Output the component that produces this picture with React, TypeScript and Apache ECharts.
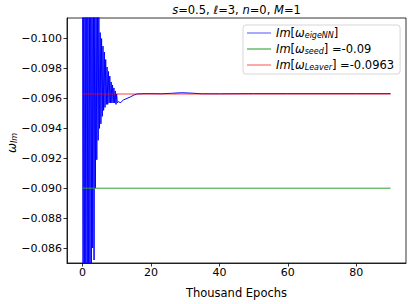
import React, { useEffect, useRef } from 'react';
import * as echarts from 'echarts';

// Blue series: Im[omega] predicted by eigeNN (thousand epochs)
const blueEpochs = [
  0.0, 0.2, 0.4, 0.6, 0.8, 1.0, 1.2, 1.4, 1.6, 1.8,
  2.0, 2.2, 2.4, 2.6, 2.8, 3.0, 3.2, 3.4, 3.6, 3.8,
  4.0, 4.2, 4.4, 4.6, 4.8, 5.0, 5.2, 5.4, 5.6, 5.8,
  6.0, 6.2, 6.4, 6.6, 6.8, 7.0, 7.2, 7.4, 7.6, 7.8,
  8.0, 8.2, 8.4, 8.6, 8.8, 9.0, 9.2, 9.4, 9.6, 9.8,
  10.0, 10.2, 10.6, 11.0, 11.5, 12.0, 13, 14, 15, 16, 18,
  20, 23, 26, 29, 32, 35, 40, 50, 60, 70, 80, 90,
];
const blueValues = [
  -0.110, -0.080, -0.110, -0.080, -0.110, -0.080, -0.110, -0.080, -0.110, -0.080,
  -0.110, -0.082, -0.110, -0.083, -0.108, -0.0860, -0.106, -0.0852, -0.104, -0.0900,
  -0.103, -0.0919, -0.102, -0.0932, -0.1015, -0.0940, -0.1004, -0.0943, -0.1000, -0.0948,
  -0.0995, -0.0952, -0.0991, -0.0954, -0.0986, -0.0956, -0.0981, -0.0956, -0.0978, -0.0957,
  -0.0975, -0.0957, -0.0971, -0.0957, -0.0969, -0.0957, -0.0967, -0.0957, -0.0965, -0.0956,
  -0.0963, -0.0957, -0.0958, -0.0957, -0.0958, -0.0959, -0.0960, -0.0961, -0.09622, -0.0963, -0.09632,
  -0.09632, -0.09631, -0.09634, -0.09638, -0.09635, -0.09631, -0.09631, -0.09632, -0.09632, -0.09632, -0.09632, -0.09632,
];

const refEpochs = [0, 90];
const seedValues = [-0.09, -0.09];
const leaverValues = [-0.0963, -0.0963];

const xTicks = [0, 20, 40, 60, 80];
const yTicks = [-0.100, -0.098, -0.096, -0.094, -0.092, -0.090, -0.088, -0.086];

const FONT = 'DejaVu Sans';

export default function App() {
  const ref = useRef<HTMLDivElement>(null);
  useEffect(() => {
    const chart = echarts.init(ref.current!, null, { renderer: 'svg' });
    const legendLabels: Record<string, string> = {
      eige: '{i|Im}[{i|ω}{s|eigeNN}]',
      seed: '{i|Im}[{i|ω}{s|seed}] =-0.09',
      leaver: '{i|Im}[{i|ω}{s|Leaver}] =-0.0963',
    };
    chart.setOption({
      animation: false,
      backgroundColor: '#ffffff',
      grid: {
        left: 67, right: 8, top: 18, bottom: 36,
        containLabel: false,
        show: true, borderColor: '#000', borderWidth: 0.8, backgroundColor: 'transparent',
      },
      xAxis: {
        type: 'value', min: -4.5, max: 94.5,
        splitLine: { show: false },
        axisLine: { show: true, onZero: false, lineStyle: { color: '#000', width: 0.8 } },
        axisTick: { show: true, length: 3.5, customValues: xTicks, lineStyle: { color: '#000', width: 0.8 } },
        axisLabel: {
          customValues: xTicks, margin: 4, color: '#000', fontSize: 11, fontFamily: FONT,
        },
        name: 'Thousand Epochs', nameLocation: 'middle', nameGap: 24,
        nameTextStyle: { color: '#000', fontSize: 11.5, fontFamily: FONT },
      },
      yAxis: {
        type: 'value', inverse: true, min: -0.101376, max: -0.085,
        splitLine: { show: false },
        axisLine: { show: true, onZero: false, lineStyle: { color: '#000', width: 0.8 } },
        axisTick: { show: true, length: 3.5, customValues: yTicks, lineStyle: { color: '#000', width: 0.8 } },
        axisLabel: {
          customValues: yTicks, margin: 5, color: '#000', fontSize: 11, fontFamily: FONT,
          formatter: (v: number) => (v < 0 ? '\u2212' : '') + Math.abs(v).toFixed(3),
        },
      },
      legend: {
        orient: 'vertical', left: 243, top: 25,
        padding: [2, 6, 3, 4], itemGap: 4, itemWidth: 24, itemHeight: 14,
        icon: 'path://M0,0L24,0L24,1.2L0,1.2Z',
        borderColor: '#d6d6d6', borderWidth: 1, borderRadius: 3,
        backgroundColor: 'rgba(255,255,255,0.8)',
        data: ['eige', 'seed', 'leaver'],
        formatter: (name: string) => legendLabels[name],
        textStyle: {
          color: '#000', fontSize: 11.5, fontFamily: FONT,
          rich: {
            i: { fontStyle: 'italic', fontSize: 11.5, fontFamily: FONT, color: '#000' },
            s: { fontStyle: 'italic', fontSize: 8, fontFamily: FONT, color: '#000', verticalAlign: 'bottom', lineHeight: 10 },
          },
        },
      },
      graphic: [
        {
          type: 'text', x: 236.5, y: 10,
          style: {
            text: '{i|s}=0.5, {i|ℓ}=3, {i|n}=0, {i|M}=1',
            fontSize: 11.5, fontFamily: FONT, fill: '#000',
            align: 'center', verticalAlign: 'middle',
            rich: { i: { fontStyle: 'italic', fontSize: 11.5, fontFamily: FONT } },
          },
        },
        {
          type: 'text', x: 12, y: 143, rotation: Math.PI / 2,
          style: {
            text: '{w|ω}{s|Im}',
            fill: '#000', align: 'center', verticalAlign: 'middle',
            rich: {
              w: { fontStyle: 'italic', fontSize: 12, fontFamily: FONT },
              s: { fontStyle: 'italic', fontSize: 8, fontFamily: FONT, verticalAlign: 'bottom', lineHeight: 10 },
            },
          },
        },
      ],
      series: [
        {
          name: 'eige', type: 'line', symbol: 'none', clip: true,
          data: blueEpochs.map((x, i) => [x, blueValues[i]]),
          lineStyle: { color: '#0000ff', width: 1 }, itemStyle: { color: 'rgba(110,110,255,1)' },
        },
        {
          name: 'seed', type: 'line', symbol: 'none', clip: true,
          data: refEpochs.map((x, i) => [x, seedValues[i]]),
          lineStyle: { color: '#2e9e2e', width: 1 }, itemStyle: { color: '#44a844' },
        },
        {
          name: 'leaver', type: 'line', symbol: 'none', clip: true,
          data: refEpochs.map((x, i) => [x, leaverValues[i]]),
          lineStyle: { color: 'rgba(255,0,0,0.5)', width: 1.5 }, itemStyle: { color: 'rgba(255,110,110,1)' },
        },
      ],
    });
    return () => chart.dispose();
  }, []);
  return <div ref={ref} style={{ width: 414, height: 304, position: 'absolute', left: 0, top: 0 }} />;
}
